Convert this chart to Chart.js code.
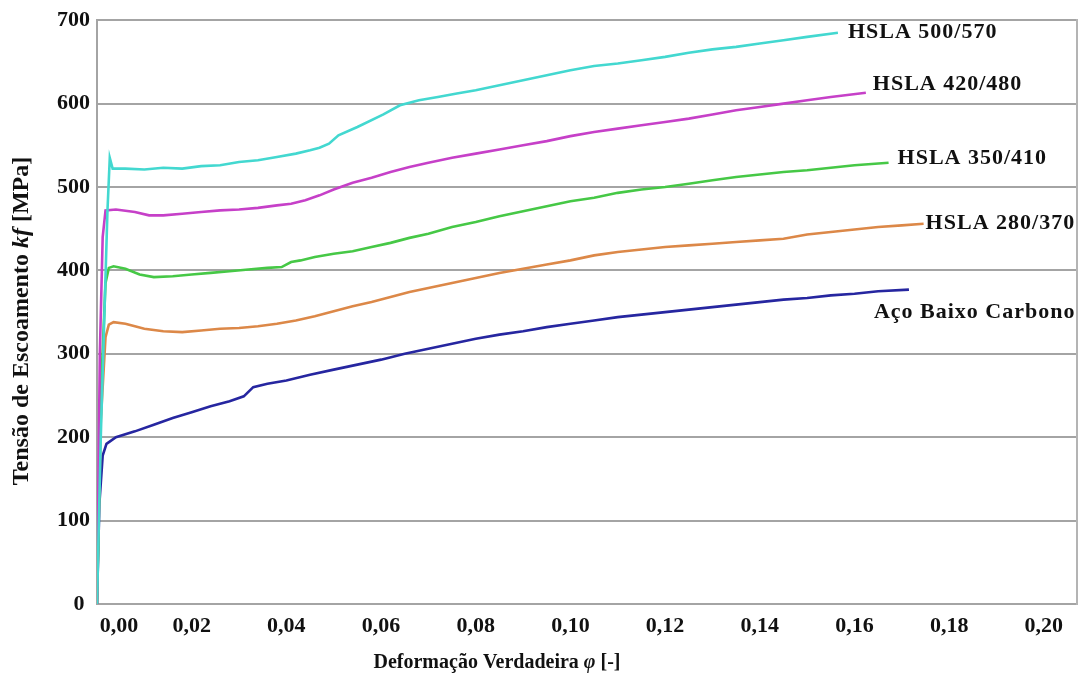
<!DOCTYPE html>
<html>
<head>
<meta charset="utf-8">
<script src="https://cdn.jsdelivr.net/npm/chart.js@4.4.1/dist/chart.umd.min.js"></script>
<style>
  html, body { margin: 0; padding: 0; background: #fff; }
  #wrap { width: 1080px; height: 680px; position: relative; }
</style>
</head>
<body>
<div id="wrap"><canvas id="chart"></canvas></div>
<script>
const SERIES_NAMES = ["HSLA 500/570", "HSLA 420/480", "HSLA 350/410", "HSLA 280/370", "Aço Baixo Carbono"];

// HSLA 500/570
const strain500 = [0, 0.0008, 0.0022, 0.0027, 0.0033, 0.006, 0.010, 0.014, 0.018, 0.022, 0.026, 0.030, 0.034, 0.038, 0.042, 0.045, 0.047, 0.049, 0.051, 0.055, 0.0605, 0.064, 0.068, 0.072, 0.076, 0.080, 0.085, 0.090, 0.095, 0.100, 0.105, 0.110, 0.115, 0.120, 0.125, 0.130, 0.135, 0.140, 0.145, 0.150, 0.1565];
const stress500 = [0, 200, 470, 535, 522, 522, 521, 523, 522, 525, 526, 530, 532, 536, 540, 544, 547, 552, 562, 572, 587, 598, 604, 608, 612, 616, 622, 628, 634, 640, 645, 648, 652, 656, 661, 665, 668, 672, 676, 680, 685];

// HSLA 420/480
const strain420 = [0, 0.0006, 0.0012, 0.0018, 0.004, 0.008, 0.011, 0.014, 0.018, 0.022, 0.026, 0.030, 0.034, 0.038, 0.041, 0.044, 0.047, 0.050, 0.054, 0.058, 0.062, 0.066, 0.070, 0.075, 0.080, 0.085, 0.090, 0.095, 0.100, 0.105, 0.110, 0.115, 0.120, 0.125, 0.130, 0.135, 0.140, 0.145, 0.150, 0.155, 0.1624];
const stress420 = [0, 300, 440, 472, 473, 470, 466, 466, 468, 470, 472, 473, 475, 478, 480, 484, 490, 497, 505, 511, 518, 524, 529, 535, 540, 545, 550, 555, 561, 566, 570, 574, 578, 582, 587, 592, 596, 600, 604, 608, 613];

// HSLA 350/410
const strain350 = [0, 0.0008, 0.0018, 0.0025, 0.0035, 0.006, 0.009, 0.012, 0.016, 0.020, 0.024, 0.028, 0.032, 0.036, 0.039, 0.041, 0.043, 0.046, 0.050, 0.054, 0.058, 0.062, 0.066, 0.070, 0.075, 0.080, 0.085, 0.090, 0.095, 0.100, 0.105, 0.110, 0.115, 0.120, 0.125, 0.130, 0.135, 0.140, 0.145, 0.150, 0.155, 0.160, 0.1672];
const stress350 = [0, 250, 385, 403, 405, 402, 395, 392, 393, 395, 397, 399, 401, 403, 404, 410, 412, 416, 420, 423, 428, 433, 439, 444, 452, 458, 465, 471, 477, 483, 487, 493, 497, 500, 504, 508, 512, 515, 518, 520, 523, 526, 529];

// HSLA 280/370
const strain280 = [0, 0.0008, 0.0018, 0.0025, 0.0035, 0.006, 0.010, 0.014, 0.018, 0.022, 0.026, 0.030, 0.034, 0.038, 0.042, 0.046, 0.050, 0.054, 0.058, 0.062, 0.066, 0.070, 0.075, 0.080, 0.085, 0.090, 0.095, 0.100, 0.105, 0.110, 0.115, 0.120, 0.125, 0.130, 0.135, 0.140, 0.145, 0.150, 0.155, 0.160, 0.165, 0.170, 0.1746];
const stress280 = [0, 220, 320, 335, 338, 336, 330, 327, 326, 328, 330, 331, 333, 336, 340, 345, 351, 357, 362, 368, 374, 379, 385, 391, 397, 402, 407, 412, 418, 422, 425, 428, 430, 432, 434, 436, 438, 443, 446, 449, 452, 454, 456];

// Aço Baixo Carbono
const strainLow = [0, 0.0005, 0.0012, 0.002, 0.004, 0.008, 0.012, 0.016, 0.020, 0.024, 0.028, 0.031, 0.033, 0.036, 0.040, 0.045, 0.050, 0.055, 0.060, 0.065, 0.070, 0.075, 0.080, 0.085, 0.090, 0.095, 0.100, 0.105, 0.110, 0.115, 0.120, 0.125, 0.130, 0.135, 0.140, 0.145, 0.150, 0.155, 0.160, 0.165, 0.1715];
const stressLow = [0, 120, 178, 192, 200, 207, 215, 223, 230, 237, 243, 249, 260, 264, 268, 275, 281, 287, 293, 300, 306, 312, 318, 323, 327, 332, 336, 340, 344, 347, 350, 353, 356, 359, 362, 365, 367, 370, 372, 375, 377];

const xTickLabels = ["0,00", "0,02", "0,04", "0,06", "0,08", "0,10", "0,12", "0,14", "0,16", "0,18", "0,20"];
const yTickLabels = ["0", "100", "200", "300", "400", "500", "600", "700"];

const COLORS = ["#43d8d0", "#c640c8", "#46c846", "#dc8848", "#2626a0"];
const SERIF = "'Liberation Serif', 'Times New Roman', serif";
const GRID = "#a4a4a4";

// label offsets (px) from the end of each curve
const labelOffsets = [[10, 0], [7, -8], [9, -5], [2, 0], [-35, 23]];

Chart.defaults.font.family = SERIF;
Chart.defaults.color = "#111";

function toPoints(xs, ys) {
  return xs.map((x, i) => ({ x: x, y: ys[i] }));
}

const seriesData = [
  toPoints(strain500, stress500),
  toPoints(strain420, stress420),
  toPoints(strain350, stress350),
  toPoints(strain280, stress280),
  toPoints(strainLow, stressLow),
];

function drawRich(ctx, parts, size) {
  // parts: [text, italic]; drawn centred on (0,0)
  let total = 0;
  parts.forEach((p) => {
    ctx.font = `${p[1] ? "italic " : ""}bold ${size}px ${SERIF}`;
    total += ctx.measureText(p[0]).width;
  });
  let x = -total / 2;
  parts.forEach((p) => {
    ctx.font = `${p[1] ? "italic " : ""}bold ${size}px ${SERIF}`;
    ctx.fillText(p[0], x, 0);
    x += ctx.measureText(p[0]).width;
  });
}

const textPlugin = {
  id: "curveText",
  afterDatasetsDraw(chart) {
    const ctx = chart.ctx;
    const xs = chart.scales.x;
    const ys = chart.scales.y;
    ctx.save();
    ctx.fillStyle = "#111";
    ctx.textBaseline = "middle";
    ctx.textAlign = "left";
    ctx.font = `bold 22px ${SERIF}`;
    ctx.letterSpacing = "1px";
    seriesData.forEach((pts, i) => {
      const last = pts[pts.length - 1];
      const px = xs.getPixelForValue(last.x) + labelOffsets[i][0];
      const py = ys.getPixelForValue(last.y) + labelOffsets[i][1];
      ctx.fillText(SERIES_NAMES[i], px, py);
    });
    ctx.letterSpacing = "0px";

    // axis titles
    ctx.save();
    ctx.translate(497, 663);
    drawRich(ctx, [["Deformação Verdadeira ", false], ["φ", true], [" [-]", false]], 20);
    ctx.restore();

    ctx.save();
    ctx.translate(22, 321);
    ctx.rotate(-Math.PI / 2);
    drawRich(ctx, [["Tensão de Escoamento ", false], ["kf", true], [" [MPa]", false]], 24);
    ctx.restore();
    ctx.restore();
  },
};

new Chart(document.getElementById("chart"), {
  type: "line",
  data: {
    datasets: seriesData.map((pts, i) => ({
      label: SERIES_NAMES[i],
      data: pts,
      borderColor: COLORS[i],
      backgroundColor: COLORS[i],
      borderWidth: 2.6,
      pointRadius: 0,
      tension: 0,
      fill: false,
    })),
  },
  options: {
    responsive: true,
    maintainAspectRatio: false,
    animation: false,
    layout: { padding: { top: 17, left: 0, right: 0, bottom: 0 } },
    plugins: {
      legend: { display: false },
      tooltip: { enabled: false },
    },
    scales: {
      x: {
        type: "linear",
        min: 0,
        max: 0.207,
        grid: { display: false, drawTicks: false },
        border: { display: true, color: GRID, width: 2 },
        ticks: {
          stepSize: 0.02,
          includeBounds: false,
          padding: 9,
          color: "#111",
          font: { size: 22, weight: "bold" },
          callback: (v) => {
            const i = Math.round(v / 0.02);
            return i === 0 ? "        " + xTickLabels[0] : xTickLabels[i];
          },
        },
        afterFit: (s) => { s.height = 76; },
      },
      y: {
        min: 0,
        max: 700,
        grid: { color: GRID, lineWidth: 2, drawTicks: false },
        border: { display: true, color: GRID, width: 2 },
        ticks: {
          stepSize: 100,
          padding: 7,
          color: "#111",
          font: { size: 22, weight: "bold" },
          callback: (v) => {
            const i = Math.round(v / 100);
            return i === 0 ? yTickLabels[0] + " " : yTickLabels[i];
          },
        },
        afterFit: (s) => { s.width = 97; },
      },
      y2: {
        position: "right",
        min: 0,
        max: 700,
        grid: { drawOnChartArea: false, drawTicks: false },
        border: { display: true, color: "#b4b4b4", width: 2 },
        ticks: { display: false },
        afterFit: (s) => { s.width = 3; },
      },
    },
  },
  plugins: [textPlugin],
});
</script>
</body>
</html>
